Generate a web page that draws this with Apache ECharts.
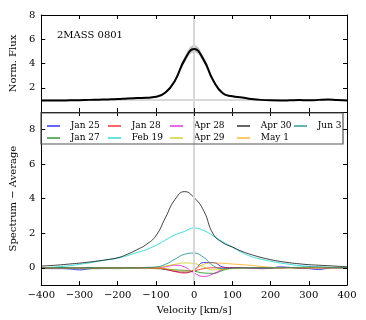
<!DOCTYPE html>
<html>
<head>
<meta charset="utf-8">
<script src="https://cdn.jsdelivr.net/npm/echarts@6/dist/echarts.min.js"></script>
<style>
  html, body { margin: 0; padding: 0; background: #fff; }
  #chart-container { width: 366px; height: 320px; }
</style>
</head>
<body>
<div id="chart-container"></div>
<script>
// velocity grid (km/s), shared by every curve
var velocity = [-400,-375,-350,-325,-300,-275,-250,-225,-200,-175,-150,-125,-100,-75,-50,-25,0,
  25,50,75,100,125,150,175,200,225,250,275,300,325,350,375,400];

// top panel: mean normalised flux and its spread
var normFlux = [0.95,0.95,0.95,0.96,0.97,1.0,1.02,1.04,1.07,1.12,1.15,1.17,1.25,1.6,2.6,4.3,5.2,
  4.3,2.6,1.55,1.3,1.2,1.08,1.0,0.96,0.95,0.96,0.98,0.96,1.0,1.03,0.98,0.95];
var fluxErr = [0.04,0.04,0.04,0.04,0.04,0.04,0.04,0.04,0.04,0.04,0.04,0.05,0.06,0.08,0.15,0.25,0.3,
  0.25,0.15,0.08,0.06,0.05,0.04,0.04,0.04,0.04,0.04,0.04,0.04,0.04,0.04,0.04,0.04];

// bottom panel: spectrum minus average, one array per night
var jan25 = [-0.03,-0.05,-0.05,-0.07,-0.12,-0.06,-0.02,0.0,0.02,0.0,0.0,0.02,0.0,-0.1,-0.2,-0.25,-0.12,
  0.3,0.3,0.05,0.0,0.0,-0.02,-0.05,-0.02,0.05,0.02,-0.03,-0.05,-0.1,-0.03,0.0,0.0];
var jan27 = [0.0,-0.02,-0.03,-0.03,-0.05,-0.05,-0.05,-0.04,-0.05,-0.03,-0.02,-0.03,-0.05,-0.08,-0.12,-0.15,-0.2,
  -0.3,-0.32,-0.15,-0.03,-0.02,0.0,0.0,-0.02,0.0,0.0,-0.02,0.0,0.0,0.0,0.0,0.0];
var jan28 = [0.0,0.0,0.02,0.0,0.0,0.02,0.0,0.0,0.0,0.02,0.0,0.0,-0.02,-0.08,-0.22,-0.3,-0.18,
  -0.05,0.0,0.0,0.0,0.02,0.0,0.0,0.0,0.0,0.02,0.0,0.0,0.0,0.0,0.0,0.0];
var feb19 = [0.0,0.03,0.07,0.12,0.2,0.28,0.38,0.47,0.56,0.7,0.88,1.05,1.3,1.6,1.9,2.1,2.3,
  2.15,1.85,1.5,1.2,0.88,0.65,0.5,0.38,0.28,0.2,0.13,0.08,0.04,0.02,0.0,-0.02];
var apr28 = [0.0,0.0,0.0,0.0,0.0,0.0,0.0,0.0,0.0,0.0,0.0,0.0,0.0,0.05,0.15,0.05,-0.3,
  -0.5,-0.35,-0.1,-0.02,0.0,0.0,0.0,0.0,0.0,0.0,0.0,0.0,0.0,0.0,0.0,0.0];
var apr29 = [0.0,0.0,0.0,0.0,0.0,0.0,0.0,0.0,0.0,0.0,0.0,0.0,0.02,0.1,0.2,0.28,0.25,
  0.05,-0.12,-0.1,-0.05,-0.02,0.0,0.0,0.0,0.0,0.0,0.0,0.0,0.0,0.0,0.0,0.0];
var apr30 = [0.1,0.13,0.17,0.22,0.27,0.33,0.4,0.48,0.58,0.78,1.04,1.35,1.85,2.9,3.95,4.4,4.05,
  3.3,1.95,1.45,1.2,0.95,0.76,0.6,0.47,0.37,0.29,0.23,0.18,0.15,0.12,0.09,0.06];
var may1 = [0.0,0.0,0.0,0.0,0.0,0.0,0.0,0.0,0.0,0.0,0.0,0.0,-0.02,-0.05,-0.15,-0.2,-0.1,
  0.2,0.28,0.26,0.22,0.18,0.14,0.08,0.03,0.0,0.0,0.0,0.0,0.0,0.0,0.0,0.0];
var jun3 = [0.0,0.0,0.02,0.0,0.0,0.02,0.0,0.0,0.0,0.0,0.0,0.02,0.05,0.2,0.5,0.78,0.85,
  0.6,0.12,-0.05,-0.02,0.0,0.0,0.0,0.0,0.0,0.02,0.03,0.05,0.05,0.03,0.02,0.0];

var nights = ['Jan 25','Jan 27','Jan 28','Feb 19','Apr 28','Apr 29','Apr 30','May 1','Jun 3'];
var nightData = [jan25, jan27, jan28, feb19, apr28, apr29, apr30, may1, jun3];
var nightColors = ['#0000ff','#008000','#ff0000','#00d0d0','#e000e0','#c8c800','#000000','#ffa500','#008080'];

var topYTicks = [2,4,6,8];
var botYTicks = [0,2,4,6,8];

var FONT = 'DejaVu Serif';

function pairs(arr) {
  return velocity.map(function(v, i) { return [v, arr[i]]; });
}
function minus(val) {
  return String(val).replace('-', '\u2212');
}

var dom = document.getElementById('chart-container');
var myChart = echarts.init(dom, null, { renderer: 'canvas' });

function xAx(grid, pos, labels) {
  return {
    type: 'value', gridIndex: grid, position: pos, min: -400, max: 400, interval: 100, z: 10,
    axisLine: { show: true, onZero: false, lineStyle: { color: '#000', width: 1 } },
    axisTick: { show: true, inside: true, length: 4, lineStyle: { color: '#000' } },
    axisLabel: { show: labels, fontFamily: FONT, fontSize: 10, color: '#000', margin: 5, formatter: minus },
    splitLine: { show: false }
  };
}
function yAx(grid, pos, min, max, ticks, labels) {
  return {
    type: 'value', gridIndex: grid, position: pos, min: min, max: max, z: 10,
    axisLine: { show: true, onZero: false, lineStyle: { color: '#000', width: 1 } },
    axisTick: { show: true, inside: true, length: 4, customValues: ticks, lineStyle: { color: '#000' } },
    axisLabel: { show: labels, customValues: ticks, fontFamily: FONT, fontSize: 10, color: '#000', margin: 6, formatter: minus },
    splitLine: { show: false }
  };
}

var xAxes = [xAx(0, 'bottom', false), xAx(0, 'top', false), xAx(1, 'bottom', true), xAx(1, 'top', false)];
xAxes[2].name = 'Velocity [km/s]';
xAxes[2].nameLocation = 'middle';
xAxes[2].nameGap = 17;
xAxes[2].nameTextStyle = { fontFamily: FONT, fontSize: 10, color: '#000' };

var yAxes = [yAx(0, 'left', 0, 8, topYTicks, true), yAx(0, 'right', 0, 8, topYTicks, false),
  yAx(1, 'left', -1, 9, botYTicks, true), yAx(1, 'right', -1, 9, botYTicks, false)];
yAxes[0].name = 'Norm. Flux';
yAxes[2].name = 'Spectrum \u2212 Average';
[0, 2].forEach(function(k) {
  yAxes[k].nameLocation = 'middle';
  yAxes[k].nameGap = 18;
  yAxes[k].nameTextStyle = { fontFamily: FONT, fontSize: 10, color: '#000' };
});

var series = [];
// grey spread band in the top panel: grey area up to flux+err, white area up to flux-err
series.push({
  type: 'line', xAxisIndex: 0, yAxisIndex: 0, smooth: true, symbol: 'none', z: 1,
  lineStyle: { width: 0, opacity: 0 }, areaStyle: { color: '#c4c4c4', opacity: 1 }, silent: true,
  data: velocity.map(function(v, i) { return [v, normFlux[i] + fluxErr[i]]; })
});
series.push({
  type: 'line', xAxisIndex: 0, yAxisIndex: 0, smooth: true, symbol: 'none', z: 1,
  lineStyle: { width: 0, opacity: 0 }, areaStyle: { color: '#ffffff', opacity: 1 }, silent: true,
  data: velocity.map(function(v, i) { return [v, normFlux[i] - fluxErr[i]]; })
});
series.push({
  type: 'line', xAxisIndex: 0, yAxisIndex: 0, smooth: true, symbol: 'none', z: 3,
  lineStyle: { color: '#000', width: 2 }, data: pairs(normFlux),
  markLine: {
    silent: true, symbol: 'none', label: { show: false }, z: 2,
    lineStyle: { color: '#d8d8d8', width: 2, type: 'solid' },
    data: [{ xAxis: 0 }, { yAxis: 1 }]
  }
});

nights.forEach(function(name, i) {
  var s = {
    name: name, type: 'line', xAxisIndex: 2, yAxisIndex: 2, smooth: true, symbol: 'none',
    color: nightColors[i],
    lineStyle: { color: nightColors[i], width: 1, opacity: 0.75 },
    data: pairs(nightData[i])
  };
  if (i === 0) {
    s.markLine = {
      silent: true, symbol: 'none', label: { show: false },
      lineStyle: { color: '#d8d8d8', width: 2, type: 'solid', opacity: 1 },
      data: [{ xAxis: 0 }]
    };
  }
  series.push(s);
});

// legend: five columns, filled top-to-bottom like the original
var legendCols = [['Jan 25','Jan 27'], ['Jan 28','Feb 19'], ['Apr 28','Apr 29'], ['Apr 30','May 1'], ['Jun 3']];
var legendLeft = [42, 103, 165, 232, 289];
var legends = legendCols.map(function(col, c) {
  return {
    data: col, orient: 'vertical', left: legendLeft[c], top: 115, itemGap: 0,
    icon: 'rect', itemWidth: 13, itemHeight: 1.2, selectedMode: false,
    formatter: function(name) { return '  ' + name; },
    textStyle: { fontFamily: FONT, fontSize: 9, color: '#000', lineHeight: 12 }
  };
});

var option = {
  animation: false,
  grid: [
    { left: 36, right: 19, top: 15, height: 97 },
    { left: 36, right: 19, top: 112, height: 175 }
  ],
  xAxis: xAxes,
  yAxis: yAxes,
  legend: legends,
  graphic: [
    { type: 'rect', shape: { x: 41, y: 113, width: 302, height: 31 }, z: 100,
      style: { fill: 'rgba(255,255,255,0)', stroke: '#555', lineWidth: 1.2 } },
    { type: 'text', left: 57, top: 30, z: 100,
      style: { text: '2MASS 0801', font: '10px "DejaVu Serif"', fill: '#000' } }
  ],
  series: series
};

myChart.setOption(option);
window.addEventListener('resize', myChart.resize);
</script>
</body>
</html>
